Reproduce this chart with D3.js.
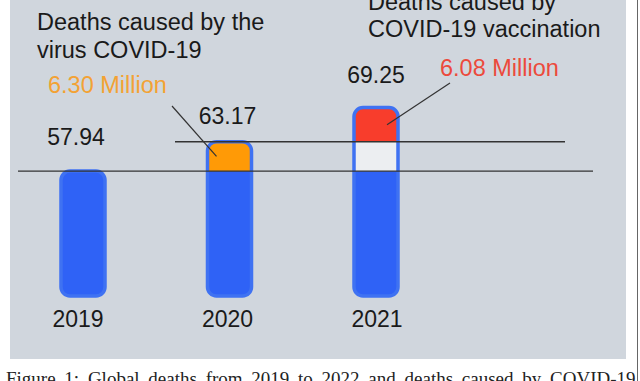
<!DOCTYPE html>
<html>
<head>
<meta charset="utf-8">
<script src="https://cdn.jsdelivr.net/npm/d3@7"></script>
<style>
  html, body { margin: 0; padding: 0; background: #ffffff; overflow: hidden; }
  text { font-family: "Liberation Sans", Arial, sans-serif; }
</style>
</head>
<body>
<div id="chart"></div>
<script>
// Data
var years = ["2019", "2020", "2021"];
var totals = [57.94, 63.17, 69.25];
var baseDeaths = [57.94, 57.94, 57.94];
var virusDeaths = [0, 5.23, 0];      // drawn between the two guide lines
var gapDeaths = [0, 0, 5.23];        // empty part of the 2021 bar
var vaccineDeaths = [0, 0, 6.08];
var guideValues = [57.94, 63.17];
var virusLabel = "6.30 Million";
var vaccineLabel = "6.08 Million";

var width = 640, height = 381;

var svg = d3.select("#chart").append("svg")
    .attr("width", width)
    .attr("height", height);

// panel
svg.append("rect")
    .attr("x", 10).attr("y", 0)
    .attr("width", 616).attr("height", 359)
    .attr("fill", "#d0d6dd");

svg.append("line")
    .attr("x1", 637.5).attr("x2", 637.5)
    .attr("y1", 0).attr("y2", height)
    .attr("stroke", "#666").attr("stroke-width", 1);

var x = d3.scalePoint().domain(years).range([83, 376]);
var y = d3.scaleLinear().domain([35.7, 69.25]).range([296, 107.6]);
var barW = 44;

var rows = years.map(function(yr, i) {
  return { year: yr, base: baseDeaths[i], virus: virusDeaths[i], gap: gapDeaths[i], vaccine: vaccineDeaths[i], total: totals[i] };
});

var stack = d3.stack().keys(["base", "virus", "gap", "vaccine"]);
var layers = stack(rows);
var fills = { base: "#2f62f6", virus: "#ff9a06", gap: "#eceef1", vaccine: "#f83d2c" };

var defs = svg.append("defs");
rows.forEach(function(d, i) {
  defs.append("clipPath").attr("id", "clip" + i)
    .append("rect")
    .attr("x", x(d.year) - barW / 2)
    .attr("y", y(d.total))
    .attr("width", barW)
    .attr("height", y.range()[0] - y(d.total))
    .attr("rx", 9);
});

var bars = svg.selectAll(".bar").data(rows).enter()
    .append("g").attr("class", "bar")
    .attr("clip-path", function(d, i) { return "url(#clip" + i + ")"; });

layers.forEach(function(layer) {
  bars.append("rect")
      .attr("x", function(d) { return x(d.year) - barW / 2; })
      .attr("width", barW)
      .attr("y", function(d, i) { return layer[i][1] > layer[i][0] ? y(layer[i][1]) : 0; })
      .attr("height", function(d, i) {
        var lo = layer.key === "base" ? y.domain()[0] : layer[i][0];
        return layer[i][1] > layer[i][0] ? y(lo) - y(layer[i][1]) : 0;
      })
      .attr("fill", fills[layer.key]);
});

// bar outlines
svg.selectAll(".outline").data(rows).enter()
    .append("rect").attr("class", "outline")
    .attr("x", function(d) { return x(d.year) - barW / 2; })
    .attr("y", function(d) { return y(d.total); })
    .attr("width", barW)
    .attr("height", function(d) { return y.range()[0] - y(d.total); })
    .attr("rx", 9)
    .attr("fill", "none")
    .attr("stroke", "#3f72f2")
    .attr("stroke-width", 3.5);

// guide lines
svg.append("line")
    .attr("x1", 18).attr("x2", 593)
    .attr("y1", y(guideValues[0])).attr("y2", y(guideValues[0]))
    .attr("stroke", "#333").attr("stroke-width", 1.3);
svg.append("line")
    .attr("x1", 175).attr("x2", 565)
    .attr("y1", y(guideValues[1])).attr("y2", y(guideValues[1]))
    .attr("stroke", "#333").attr("stroke-width", 1.3);

// value labels
svg.selectAll(".val").data(rows).enter()
    .append("text").attr("class", "val")
    .attr("x", function(d) { return x(d.year) - [7, 2, 0][years.indexOf(d.year)]; })
    .attr("y", function(d) { return y(d.total) - [26, 18, 25][years.indexOf(d.year)]; })
    .attr("text-anchor", "middle")
    .attr("font-size", "23px")
    .attr("fill", "#1a1a1a")
    .text(function(d) { return d.total.toFixed(2); });

// year labels
svg.selectAll(".year").data(rows).enter()
    .append("text").attr("class", "year")
    .attr("x", function(d) { return x(d.year) - [5, 2, -1][years.indexOf(d.year)]; })
    .attr("y", 327)
    .attr("text-anchor", "middle")
    .attr("font-size", "23px")
    .attr("fill", "#1a1a1a")
    .text(function(d) { return d.year; });

// titles
var t1 = svg.append("text").attr("x", 37).attr("font-size", "23.5px").attr("fill", "#1a1a1a");
t1.append("tspan").attr("x", 37).attr("y", 30).text("Deaths caused by the");
t1.append("tspan").attr("x", 37).attr("y", 58).text("virus COVID-19");

var t2 = svg.append("text").attr("font-size", "23.5px").attr("fill", "#1a1a1a");
t2.append("tspan").attr("x", 368).attr("y", 10).text("Deaths caused by");
t2.append("tspan").attr("x", 368).attr("y", 37).text("COVID-19 vaccination");

// callouts
var vMid = (y(guideValues[0]) + y(guideValues[1])) / 2;
var rMid = (y(guideValues[1]) + y(totals[2])) / 2;

svg.append("text").attr("x", 48).attr("y", 93)
    .attr("font-size", "23.5px").attr("fill", "#f3a234")
    .text(virusLabel);
svg.append("line")
    .attr("x1", 172).attr("y1", 106)
    .attr("x2", x("2020") - 13).attr("y2", vMid)
    .attr("stroke", "#333").attr("stroke-width", 1.2);

svg.append("text").attr("x", 440).attr("y", 76)
    .attr("font-size", "23.5px").attr("fill", "#ec4a3c")
    .text(vaccineLabel);
svg.append("line")
    .attr("x1", 450).attr("y1", 83)
    .attr("x2", x("2021") + 11).attr("y2", rMid)
    .attr("stroke", "#333").attr("stroke-width", 1.2);

// caption, cut off by the bottom edge
svg.append("text").attr("x", 6).attr("y", 385)
    .style("font-family", "'Liberation Serif', 'Times New Roman', serif")
    .attr("font-size", "19px").attr("fill", "#222")
    .attr("word-spacing", "4px")
    .text("Figure 1: Global deaths from 2019 to 2022 and deaths caused by COVID-19");
</script>
</body>
</html>
